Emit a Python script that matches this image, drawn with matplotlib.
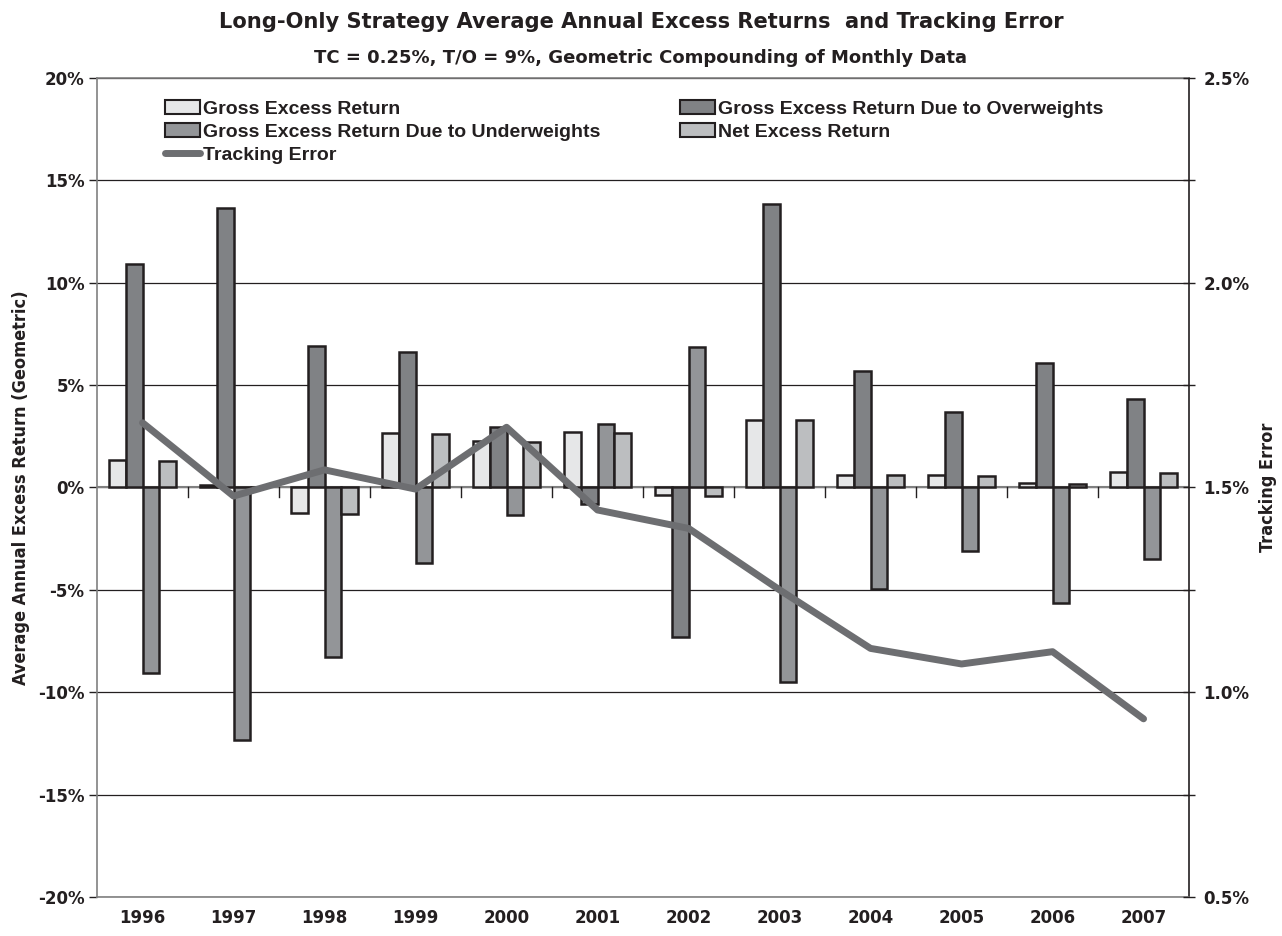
import numpy as np
import matplotlib
matplotlib.use("Agg")
import matplotlib.pyplot as plt
from matplotlib.patches import Patch
from matplotlib.lines import Line2D
from matplotlib.ticker import FuncFormatter, MultipleLocator

# data (percent)
years = ['1996', '1997', '1998', '1999', '2000', '2001',
         '2002', '2003', '2004', '2005', '2006', '2007']
gross = [1.34, 0.10, -1.26, 2.68, 2.27, 2.69, -0.37, 3.31, 0.63, 0.61, 0.20, 0.74]
overweights = [10.9, 13.65, 6.91, 6.63, 2.94, -0.81, -7.32, 13.83, 5.69, 3.67, 6.06, 4.31]
underweights = [-9.05, -12.33, -8.26, -3.67, -1.36, 3.12, 6.85, -9.48, -4.97, -3.09, -5.66, -3.51]
net = [1.30, 0.02, -1.31, 2.61, 2.22, 2.66, -0.41, 3.30, 0.60, 0.58, 0.17, 0.71]
tracking_error = [1.658, 1.479, 1.543, 1.496, 1.647, 1.445, 1.400, 1.250, 1.107, 1.069, 1.099, 0.935]

series = [
    ('Gross Excess Return', gross, '#e6e7e8'),
    ('Gross Excess Return Due to Overweights', overweights, '#808285'),
    ('Gross Excess Return Due to Underweights', underweights, '#939598'),
    ('Net Excess Return', net, '#bcbec0'),
]

plt.rcParams['font.family'] = ['DejaVu Sans']
edge = '#231f20'
cond = dict(family='DejaVu Sans', stretch='condensed', weight='bold')

fig = plt.figure(figsize=(12.82, 9.36), dpi=100)
ax = fig.add_axes([0.0757, 0.0417, 0.8518, 0.875])

x = np.arange(len(years))
w = 0.183
for i, (name, vals, col) in enumerate(series):
    ax.bar(x + (i - 1.5) * w, vals, width=w, color=col, edgecolor=edge,
           linewidth=1.8, zorder=3)

ax.set_xlim(-0.5, len(years) - 0.5)
ax.set_ylim(-20, 20)
ax.yaxis.set_major_locator(MultipleLocator(5))
ax.yaxis.set_major_formatter(FuncFormatter(lambda v, p: f'{v:.0f}%'))
ax.grid(axis='y', color=edge, linewidth=0.9, zorder=0)
ax.axhline(0, color='#808080', linewidth=1.5, zorder=2)
# category separator ticks at the zero line
for k in range(len(years) - 1):
    ax.plot([k + 0.5, k + 0.5], [0, -0.45], color=edge, linewidth=1, zorder=2)

ax.set_xticks(x)
ax.set_xticklabels(years, fontsize=12, fontweight='bold', color=edge)
ax.tick_params(axis='x', length=0, pad=9)
ax.tick_params(axis='y', direction='out', length=6, width=1, colors=edge,
               labelsize=12, pad=3)
for lab in ax.get_yticklabels():
    lab.set_fontweight('bold')
for s in ['left', 'right', 'top', 'bottom']:
    ax.spines[s].set_color('#808080')
    ax.spines[s].set_linewidth(1.2)
ax.spines['right'].set_color(edge)

ax.set_ylabel('Average Annual Excess Return (Geometric)', fontsize=13,
              color=edge, labelpad=6, **cond)

ax2 = ax.twinx()
ax2.plot(x, tracking_error, color='#6d6e71', linewidth=5, solid_capstyle='round',
         solid_joinstyle='round', zorder=4)
ax2.set_ylim(0.5, 2.5)
ax2.yaxis.set_major_locator(MultipleLocator(0.5))
ax2.yaxis.set_minor_locator(MultipleLocator(0.25))
ax2.yaxis.set_major_formatter(FuncFormatter(lambda v, p: f'{v:.1f}%'))
ax2.tick_params(axis='y', which='both', direction='inout', length=9, width=1,
                colors=edge, labelsize=12, pad=6)
for lab in ax2.get_yticklabels():
    lab.set_fontweight('bold')
for s in ['left', 'right', 'top', 'bottom']:
    ax2.spines[s].set_visible(False)
ax2.set_ylabel('Tracking Error', fontsize=13, color=edge, labelpad=7, **cond)

# legend filled column-wise: reorder to read row by row
patches = [Patch(facecolor=c, edgecolor=edge, linewidth=1.5, label=n) for n, v, c in series]
te_handle = Line2D([], [], color='#6d6e71', linewidth=5, solid_capstyle='round',
                   label='Tracking Error')
handles = [patches[0], patches[2], te_handle, patches[1], patches[3]]
leg = ax2.legend(handles=handles, ncol=2, loc='upper left', bbox_to_anchor=(0.0623, 0.973),
                 frameon=False, prop={'family': 'Liberation Sans', 'weight': 'bold', 'size': 14},
                 handlelength=1.8, handleheight=0.72, handletextpad=0.15,
                 columnspacing=4.1, labelspacing=0.28, borderaxespad=0, borderpad=0)
for t in leg.get_texts():
    t.set_color(edge)

fig.text(0.5, 0.976, 'Long-Only Strategy Average Annual Excess Returns  and Tracking Error',
         ha='center', va='center', fontsize=15.1, fontweight='bold', color=edge)
fig.text(0.5, 0.938, 'TC = 0.25%, T/O = 9%, Geometric Compounding of Monthly Data',
         ha='center', va='center', fontsize=13, fontweight='bold', color=edge)

fig.savefig('out.png', dpi=100)
